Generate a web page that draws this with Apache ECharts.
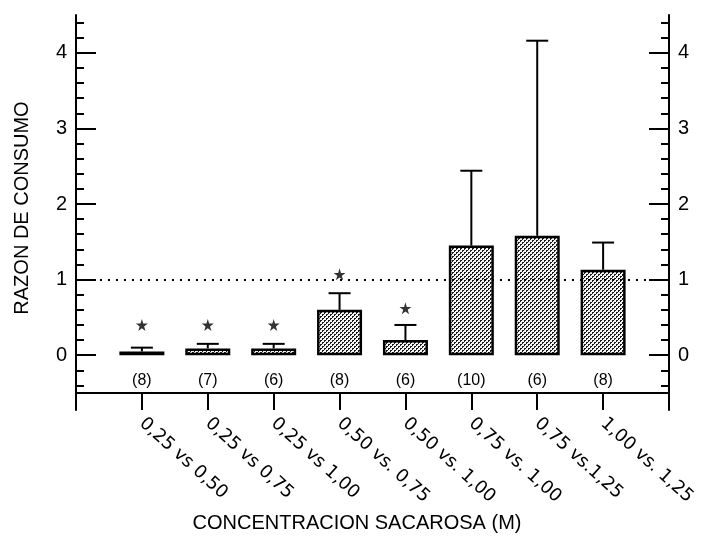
<!DOCTYPE html>
<html>
<head>
<meta charset="utf-8">
<script src="https://cdn.jsdelivr.net/npm/echarts@6/dist/echarts.min.js"></script>
<style>
html,body{margin:0;padding:0;background:#fff;}
#chart{width:704px;height:541px;}
</style>
</head>
<body>
<div id="chart"></div>
<script>
// ---- data ----
const categories = ['0,25 vs 0,50','0,25 vs 0,75','0,25 vs 1,00','0,50 vs. 0,75','0,50 vs. 1,00','0,75 vs. 1,00','0,75 vs.1,25','1,00 vs. 1,25'];
const means = [0.05, 0.09, 0.09, 0.60, 0.20, 1.45, 1.58, 1.13];
const errTop = [0.10, 0.15, 0.15, 0.82, 0.40, 2.44, 4.16, 1.49];
const stars = [0.40, 0.40, 0.40, 1.07, 0.62, null, null, null];
const nLabels = ['(8)', '(7)', '(6)', '(8)', '(6)', '(10)', '(6)', '(8)'];
const nLabelY = -0.33;
const yMajorTicks = [0, 1, 2, 3, 4];
const yMinorTicks = [-0.4, -0.2, 0.2, 0.4, 0.6, 0.8, 1.2, 1.4, 1.6, 1.8, 2.2, 2.4, 2.6, 2.8, 3.2, 3.4, 3.6, 3.8, 4.2, 4.4];
const refLine = 1;

// ---- build ----
const FONT = "'Liberation Sans', Arial, sans-serif";
const LFONT = "'DejaVu Sans', sans-serif";
const xCats = [''].concat(categories, ['']);
const barData = [null].concat(means, [null]);

function makePattern() {
  const c = document.createElement('canvas');
  c.width = 4; c.height = 4;
  const ctx = c.getContext('2d');
  ctx.fillStyle = '#f4f4f4';
  ctx.fillRect(0, 0, 4, 4);
  ctx.fillStyle = '#1a1a1a';
  ctx.fillRect(0, 0, 2, 2);
  ctx.fillRect(2, 2, 2, 2);
  ctx.fillStyle = '#ffffff';
  ctx.fillRect(1, 1, 1, 1);
  ctx.fillRect(3, 3, 1, 1);
  return c;
}

const chart = echarts.init(document.getElementById('chart'), null, {renderer: 'canvas'});
const GRID_L = 76, GRID_R = 35, GRID_T = 15;
const option = {
  animation: false,
  backgroundColor: '#ffffff',
  textStyle: {fontFamily: FONT},
  grid: [
    {left: GRID_L, right: GRID_R, top: GRID_T, height: 378},
    {left: GRID_L, right: GRID_R, top: GRID_T, height: 395}
  ],
  xAxis: [
    {
      type: 'category', gridIndex: 0, data: xCats, boundaryGap: false,
      axisLine: {show: true, onZero: false, lineStyle: {color: '#000', width: 2}},
      axisTick: {show: true, length: 17, lineStyle: {color: '#000', width: 2},
        interval: function (i, v) { return v !== ''; }},
      axisLabel: {rotate: -42, margin: 28, fontSize: 18, color: '#000', fontFamily: LFONT,
        interval: function (i, v) { return v !== ''; }},
      splitLine: {show: false}
    },
    {type: 'value', gridIndex: 1, min: 0, max: 1, show: false}
  ],
  yAxis: [
    {type: 'value', gridIndex: 0, min: -0.5, max: 4.5, show: false, splitLine: {show: false}},
    {
      type: 'value', gridIndex: 1, position: 'left', min: -0.725, max: 4.5,
      axisLine: {show: true, lineStyle: {color: '#000', width: 2}},
      axisTick: {show: true, inside: true, length: 20, lineStyle: {color: '#000', width: 2}, customValues: yMajorTicks},
      axisLabel: {show: true, customValues: yMajorTicks, fontSize: 20, color: '#000', margin: 9, fontFamily: FONT},
      splitLine: {show: false}
    },
    {
      type: 'value', gridIndex: 1, position: 'left', min: -0.725, max: 4.5,
      axisLine: {show: false},
      axisTick: {show: true, inside: true, length: 8, lineStyle: {color: '#000', width: 2}, customValues: yMinorTicks},
      axisLabel: {show: false, customValues: yMinorTicks},
      splitLine: {show: false}
    },
    {
      type: 'value', gridIndex: 1, position: 'right', min: -0.725, max: 4.5,
      axisLine: {show: true, lineStyle: {color: '#000', width: 2}},
      axisTick: {show: true, inside: true, length: 20, lineStyle: {color: '#000', width: 2}, customValues: yMajorTicks},
      axisLabel: {show: true, customValues: yMajorTicks, fontSize: 20, color: '#000', margin: 9, fontFamily: FONT},
      splitLine: {show: false}
    },
    {
      type: 'value', gridIndex: 1, position: 'right', min: -0.725, max: 4.5,
      axisLine: {show: false},
      axisTick: {show: true, inside: true, length: 8, lineStyle: {color: '#000', width: 2}, customValues: yMinorTicks},
      axisLabel: {show: false, customValues: yMinorTicks},
      splitLine: {show: false}
    }
  ],
  series: [
    {
      type: 'bar', xAxisIndex: 0, yAxisIndex: 0, data: barData, barWidth: 45,
      itemStyle: {color: {image: makePattern(), repeat: 'repeat'}, borderColor: '#000', borderWidth: 2.5},
      markLine: {
        silent: true, symbol: 'none', label: {show: false},
        lineStyle: {color: '#000', type: [2, 6], width: 2},
        data: [{yAxis: refLine}]
      },
      z: 2
    },
    {
      type: 'custom', xAxisIndex: 0, yAxisIndex: 0,
      data: categories.map((c, i) => [i + 1, means[i], errTop[i]]),
      renderItem: function (params, api) {
        const p0 = api.coord([api.value(0), api.value(1)]);
        const p1 = api.coord([api.value(0), api.value(2)]);
        const st = {stroke: '#000', lineWidth: 2};
        return {type: 'group', children: [
          {type: 'line', shape: {x1: p0[0], y1: p0[1], x2: p1[0], y2: p1[1]}, style: st},
          {type: 'line', shape: {x1: p1[0] - 11, y1: p1[1], x2: p1[0] + 11, y2: p1[1]}, style: st}
        ]};
      },
      z: 3
    },
    {
      type: 'scatter', xAxisIndex: 0, yAxisIndex: 0,
      data: stars.map((v, i) => v === null ? null : [i + 1, v]).filter(d => d !== null),
      symbol: 'path://M50,0 L61,35 L98,35 L68,57 L79,91 L50,70 L21,91 L32,57 L2,35 L39,35 Z',
      symbolSize: 12,
      itemStyle: {color: '#000'},
      z: 4
    },
    {
      type: 'custom', xAxisIndex: 0, yAxisIndex: 0,
      data: nLabels.map((t, i) => [i + 1, nLabelY, t]),
      renderItem: function (params, api) {
        const p = api.coord([api.value(0), api.value(1)]);
        return {type: 'text', x: p[0], y: p[1], style: {
          text: nLabels[params.dataIndex], fill: '#000', font: '16px ' + FONT,
          textAlign: 'center', textVerticalAlign: 'middle'}};
      },
      z: 4
    }
  ],
  graphic: [
    {type: 'text', x: 22, y: 208, rotation: Math.PI / 2, style: {
      text: 'RAZON DE CONSUMO', fill: '#000', font: '20px ' + FONT,
      textAlign: 'center', textVerticalAlign: 'middle'}},
    {type: 'text', x: 357, y: 523, style: {
      text: 'CONCENTRACION SACAROSA (M)', fill: '#000', font: '20px ' + FONT,
      textAlign: 'center', textVerticalAlign: 'middle'}}
  ]
};
chart.setOption(option);
</script>
</body>
</html>
